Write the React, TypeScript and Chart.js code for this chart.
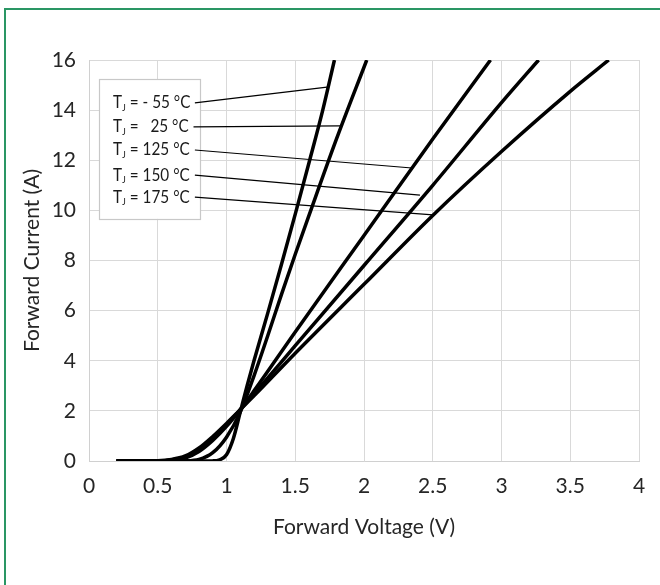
import React, { useEffect, useRef } from "react";
import { Chart, registerables } from "chart.js";

Chart.register(...registerables);

// ---- data ----
const vN55 = [0.2, 0.5, 0.8, 0.9, 0.95, 1.0, 1.05, 1.1, 1.15, 1.2, 1.3, 1.4, 1.5, 1.6, 1.7, 1.785];
const iN55 = [0, 0, 0, 0.005, 0.05, 0.25, 0.9, 1.95, 3.0, 4.0, 5.9, 7.85, 9.85, 11.9, 14.0, 16];

const v25 = [0.2, 0.6, 0.7, 0.8, 0.9, 1.0, 1.1, 1.2, 1.3, 1.4, 1.5, 1.6, 1.8, 2.02];
const i25 = [0, 0, 0.005, 0.06, 0.33, 0.95, 1.95, 3.4, 5.0, 6.65, 8.25, 9.8, 12.85, 16];

const v125 = [0.2, 0.5, 0.6, 0.7, 0.8, 0.9, 1.0, 1.1, 1.2, 1.5, 2.0, 2.5, 2.92];
const i125 = [0, 0.005, 0.03, 0.12, 0.38, 0.82, 1.38, 2.05, 2.8, 5.15, 9.0, 12.85, 16];

const v150 = [0.2, 0.5, 0.6, 0.7, 0.8, 0.9, 1.0, 1.1, 1.2, 1.5, 2.0, 2.5, 3.0, 3.27];
const i150 = [0, 0.008, 0.045, 0.16, 0.45, 0.9, 1.45, 2.05, 2.68, 4.6, 7.8, 11.0, 14.3, 16];

const v175 = [0.2, 0.5, 0.6, 0.7, 0.8, 0.9, 1.0, 1.1, 1.2, 1.5, 2.0, 2.5, 3.0, 3.5, 3.78];
const i175 = [0, 0.012, 0.06, 0.2, 0.52, 0.98, 1.5, 2.05, 2.6, 4.3, 7.05, 9.8, 12.35, 14.75, 16];

const seriesTemps = ["- 55", "  25", "125", "150", "175"];

// label anchors (data units) and leader-line targets on the curves
const labelCurrent = [14.29, 13.33, 12.41, 11.41, 10.53];
const leaderStartV = [0.77, 0.76, 0.77, 0.77, 0.77];
const leaderEndV = [1.731, 1.825, 2.349, 2.407, 2.502];
const leaderEndI = [14.92, 13.37, 11.69, 10.61, 9.82];
const labelLeftV = 0.175;
const legendBoxV = [0.073, 0.807];
const legendBoxI = [15.24, 9.66];

const xTickMin = 0;
const xTickMax = 4;
const xTickStep = 0.5;
const yTickMin = 0;
const yTickMax = 16;
const yTickStep = 2;

const FONT = "Lato, 'Open Sans', sans-serif";
const AXIS_FONT = 21;

const toPts = (xs: number[], ys: number[]) => xs.map((x, k) => ({ x, y: ys[k] }));

const legendPlugin = {
  id: "tjLegend",
  beforeDatasetsDraw(chart: any) {
    const { ctx, scales } = chart;
    const xs = scales.x;
    const ys = scales.y;
    const x0 = xs.getPixelForValue(legendBoxV[0]);
    const x1 = xs.getPixelForValue(legendBoxV[1]);
    const y0 = ys.getPixelForValue(legendBoxI[0]);
    const y1 = ys.getPixelForValue(legendBoxI[1]);
    ctx.save();
    ctx.fillStyle = "#ffffff";
    ctx.fillRect(x0, y0, x1 - x0, y1 - y0);
    ctx.strokeStyle = "#c8c8c8";
    ctx.lineWidth = 1.2;
    ctx.strokeRect(Math.round(x0) + 0.5, Math.round(y0) + 0.5, Math.round(x1 - x0), Math.round(y1 - y0));
    ctx.restore();
  },
  afterDatasetsDraw(chart: any) {
    const { ctx, scales } = chart;
    const xs = scales.x;
    const ys = scales.y;
    const sx = 0.9;
    ctx.save();
    ctx.fillStyle = "#1a1a1a";
    ctx.textBaseline = "middle";
    ctx.textAlign = "left";
    seriesTemps.forEach((t, k) => {
      const y = ys.getPixelForValue(labelCurrent[k]);
      const left = xs.getPixelForValue(labelLeftV);
      ctx.save();
      ctx.translate(left, y);
      ctx.scale(sx, 1);
      let x = 0;
      ctx.font = `17px ${FONT}`;
      ctx.fillText("T", x, 0);
      x += ctx.measureText("T").width;
      ctx.font = `10px ${FONT}`;
      ctx.fillText("J", x, 5);
      x += ctx.measureText("J").width;
      ctx.font = `17px ${FONT}`;
      ctx.fillText(` = ${t} °C`, x, 0);
      ctx.restore();
    });
    ctx.restore();
  },
};

export default function App() {
  const ref = useRef<HTMLCanvasElement | null>(null);

  useEffect(() => {
    if (!ref.current) return;
    const curves = [
      toPts(vN55, iN55),
      toPts(v25, i25),
      toPts(v125, i125),
      toPts(v150, i150),
      toPts(v175, i175),
    ];
    const curveSets = curves.map((d, k) => ({
      label: `TJ = ${seriesTemps[k]} °C`,
      data: d,
      borderColor: "#000000",
      borderWidth: 3.5,
      pointRadius: 0,
      cubicInterpolationMode: "monotone" as const,
      fill: false,
    }));
    const leaderSets = seriesTemps.map((t, k) => ({
      label: `leader ${t}`,
      data: [
        { x: leaderStartV[k], y: labelCurrent[k] },
        { x: leaderEndV[k], y: leaderEndI[k] },
      ],
      borderColor: "#000000",
      borderWidth: 1.2,
      pointRadius: 0,
      tension: 0,
      fill: false,
    }));

    const chart = new Chart(ref.current, {
      type: "line",
      data: { datasets: [...leaderSets, ...curveSets] as any },
      options: {
        animation: false,
        responsive: false,
        devicePixelRatio: 1,
        layout: { padding: { left: 0, top: 60, right: 21, bottom: 0 } },
        plugins: { legend: { display: false }, tooltip: { enabled: false } },
        scales: {
          x: {
            type: "linear",
            min: xTickMin,
            max: xTickMax,
            ticks: {
              stepSize: xTickStep,
              color: "#262626",
              font: { family: FONT, size: AXIS_FONT },
              padding: 13,
              maxRotation: 0,
              callback: (v: any) => `${v}`,
            },
            grid: { color: "#d9d9d9", lineWidth: 1, drawTicks: false },
            border: { display: true, color: "#d0d0d0" },
            title: {
              display: true,
              text: "Forward Voltage (V)",
              color: "#262626",
              font: { family: FONT, size: AXIS_FONT },
              padding: { top: 0, bottom: 45 },
            },
            afterFit: (s: any) => {
              s.height = 124;
            },
          },
          y: {
            type: "linear",
            min: yTickMin,
            max: yTickMax,
            ticks: {
              stepSize: yTickStep,
              color: "#262626",
              font: { family: FONT, size: AXIS_FONT },
              padding: 13,
              callback: (v: any) => `${v}`,
            },
            grid: { color: "#d9d9d9", lineWidth: 1, drawTicks: false },
            border: { display: true, color: "#d0d0d0" },
            title: {
              display: true,
              text: "Forward Current (A)",
              color: "#262626",
              font: { family: FONT, size: AXIS_FONT },
              padding: { top: 20, bottom: 0 },
            },
            afterFit: (s: any) => {
              s.width = 89;
            },
          },
        },
      },
      plugins: [legendPlugin],
    });
    return () => chart.destroy();
  }, []);

  return (
    <div style={{ position: "fixed", left: 0, top: 0, width: 660, height: 585, background: "#fff", overflow: "hidden" }}>
      <div
        style={{
          position: "absolute",
          left: 4,
          top: 8,
          width: 800,
          height: 800,
          borderLeft: "2px solid #2a9664",
          borderTop: "2px solid #2a9664",
        }}
      />
      <canvas ref={ref} width={660} height={585} style={{ position: "absolute", left: 0, top: 0, width: 660, height: 585 }} />
    </div>
  );
}
